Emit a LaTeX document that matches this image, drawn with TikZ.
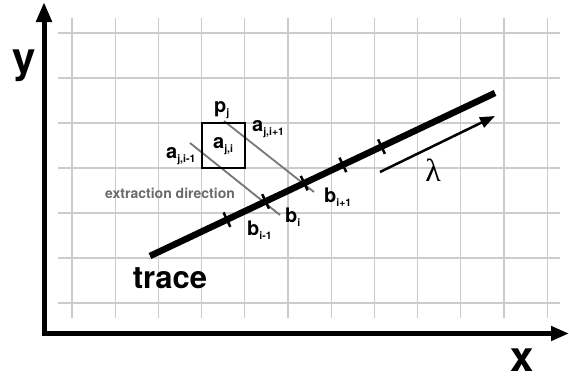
\documentclass[tikz,border=0pt]{standalone}
\usepackage{fontspec}
\setmainfont{TeX Gyre Heros}
\newfontfamily\serifgreek{Liberation Serif}
\usetikzlibrary{arrows.meta,calc}
\definecolor{gridgray}{RGB}{204,204,204}
\definecolor{extgray}{RGB}{120,120,120}
\definecolor{txtgray}{RGB}{105,105,105}
\newcommand{\lab}[2]{#1\raisebox{-4.5pt}{\fontsize{10.5}{10.5}\selectfont #2}}
\begin{document}
\begin{tikzpicture}[x=1pt,y=-1pt,
  gridline/.style={draw=gridgray,line width=1.2pt},
  lbl/.style={font=\fontsize{20}{20}\selectfont\bfseries,inner sep=0pt,anchor=base west},
  big/.style={font=\fontsize{42}{42}\selectfont\bfseries,inner sep=0pt},
  extline/.style={draw=extgray,line width=1.8pt},
  tick/.style={line width=2.5pt}]
\useasboundingbox (0,0) rectangle (569,375);
% grid
\foreach \i in {0,...,11} \draw[gridline] ({72+43.2*\i},18) -- ({72+43.2*\i},318);
\foreach \j in {0,...,6} \draw[gridline] (58,{33+45*\j}) -- (560,{33+45*\j});
% axes
\coordinate (ytop) at (44,2);
\coordinate (corner) at (44,333.5);
\coordinate (xend) at (569,333.5);
\draw[line width=5pt,line join=miter,{Triangle[length=20pt,width=15pt]}-{Triangle[length=18pt,width=14pt]}] (ytop) -- (corner) -- (xend);
\node[big] (ylab) at (24,66) {y};
\node[big] (xlab) at (522,360) {x};
% extraction lines
\coordinate (e1s) at (190,143);
\coordinate (e1e) at (280,215);
\coordinate (e2s) at (224,121);
\coordinate (e2e) at (314,192);
\draw[extline] (e1s) -- (e1e);
\draw[extline] (e2s) -- (e2e);
% box
\node[draw,line width=2pt,minimum width=43.2pt,minimum height=45pt,inner sep=0pt] (box) at (223.2,145.5) {};
% trace
\coordinate (T0) at (150,256);
\coordinate (T1) at (495,93);
\draw[line width=6.5pt] (T0) -- (T1);
\foreach \f [count=\n] in {0.223,0.335,0.447,0.559,0.671} {
  \coordinate (k\n) at ($(T0)!\f!(T1)$);
  \draw[tick] ($(k\n)!8pt!90:(T1)$) -- ($(k\n)!8pt!-90:(T1)$);
}
% lambda arrow
\coordinate (l0) at (380,172);
\coordinate (l1) at (495,116);
\draw[line width=2.5pt,-{Triangle[length=15pt,width=11pt]}] (l0) -- (l1);
\node[font=\serifgreek\fontsize{32}{32}\selectfont,inner sep=0pt] (lam) at (433,170) {λ};
% labels
\node[font=\fontsize{31}{31}\selectfont\bfseries,inner sep=0pt] (trace) at (170,278) {trace};
\node[font=\fontsize{14}{14}\selectfont\bfseries,text=txtgray,inner sep=0pt] (ext) at (170,193) {extraction direction};
\node[lbl] (pj) at (214,112) {\lab{p}{j}};
\node[lbl] (aji1) at (252,131) {\lab{a}{j,i+1}};
\node[lbl] (aji) at (213,148) {\lab{a}{j,i}};
\node[lbl] (ajim) at (166,158) {\lab{a}{j,i-1}};
\node[lbl] (bi) at (285,222) {\lab{b}{i}};
\node[lbl] (bip) at (324,202) {\lab{b}{i+1}};
\node[lbl] (bim) at (247,235) {\lab{b}{i-1}};
\end{tikzpicture}
\end{document}
